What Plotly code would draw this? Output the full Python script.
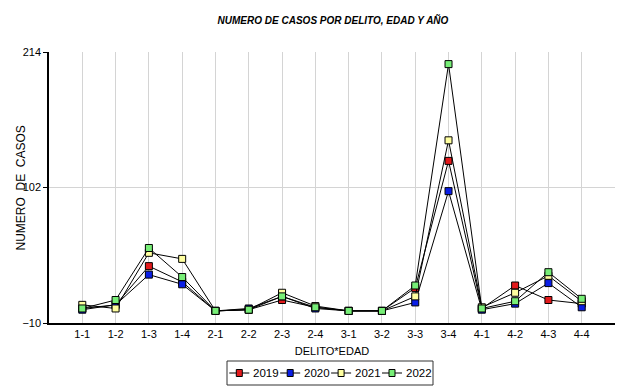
import plotly.graph_objects as go

categories = ["1-1", "1-2", "1-3", "1-4", "2-1", "2-2", "2-3", "2-4",
              "3-1", "3-2", "3-3", "3-4", "4-1", "4-2", "4-3", "4-4"]
v2019 = [2, 5, 37, 24, 0, 1, 9, 3, 0, 0, 19, 124, 2, 21, 9, 6]
v2020 = [1, 5, 30, 22, 0, 2, 12, 2, 0, 0, 7, 99, 1, 6, 23, 3]
v2021 = [5, 2, 48, 43, 0, 1, 15, 4, 0, 0, 12, 141, 3, 15, 29, 8]
v2022 = [2, 9, 52, 28, 0, 1, 12, 3, 0, 0, 21, 204, 2, 8, 32, 10]
series = [("2019", v2019, "#e31a1c"), ("2020", v2020, "#0a1ee6"),
          ("2021", v2021, "#ffffa0"), ("2022", v2022, "#77ee77")]
ytick_vals = [-10, 102, 214]

FONT = "Liberation Sans, Arial, sans-serif"

# figure geometry (page body has an 8px margin, so figure is 8px smaller)
W, H = 636, 381
ML, MR, MT, MB = 41, 29, 44, 66
PW, PH = W - ML - MR, H - MT - MB


def px_to_paper(fx, fy):
    return (fx - ML) / PW, (H - MB - fy) / PH


fig = go.Figure()
for name, vals, col in series:
    fig.add_trace(go.Scatter(
        x=categories, y=vals, name=name, mode="lines+markers",
        line=dict(color="black", width=1),
        marker=dict(symbol="square", size=7, color=col,
                    line=dict(color="black", width=1)),
        showlegend=False,
    ))

# compact legend box drawn below the plot
shapes, annots = [], []
bx0, by0 = px_to_paper(219, 377)
bx1, by1 = px_to_paper(425, 353)
shapes.append(dict(type="rect", xref="paper", yref="paper",
                   x0=bx0, x1=bx1, y0=by0, y1=by1,
                   line=dict(color="#333333", width=1), fillcolor="white",
                   layer="above"))
for i, (name, vals, col) in enumerate(series):
    cx = 231.3 + i * 50.9
    cy = 365
    lx0, ly = px_to_paper(cx - 10, cy)
    lx1, _ = px_to_paper(cx + 10, cy)
    shapes.append(dict(type="line", xref="paper", yref="paper",
                       x0=lx0, x1=lx1, y0=ly, y1=ly,
                       line=dict(color="black", width=1), layer="above"))
    sx0, sy0 = px_to_paper(cx - 3, cy + 3.5)
    sx1, sy1 = px_to_paper(cx + 3, cy - 3.5)
    shapes.append(dict(type="rect", xref="paper", yref="paper",
                       x0=sx0, x1=sx1, y0=sy0, y1=sy1,
                       line=dict(color="black", width=1), fillcolor=col,
                       layer="above"))
    tx, ty = px_to_paper(cx + 11.5, cy)
    annots.append(dict(text=name, xref="paper", yref="paper", x=tx, y=ty,
                       xanchor="left", yanchor="middle", showarrow=False,
                       font=dict(family=FONT, size=11.5)))

annots.append(dict(text="NUMERO  DE  CASOS", textangle=-90,
                   xref="paper", yref="paper", x=-0.0495, y=0.5,
                   xanchor="center", yanchor="middle", showarrow=False,
                   font=dict(family=FONT, size=12)))

fig.update_layout(
    width=W, height=H,
    margin=dict(l=ML, r=MR, t=MT, b=MB, autoexpand=False),
    paper_bgcolor="white", plot_bgcolor="white",
    font=dict(family=FONT, size=11, color="black"),
    title=dict(text="<b><i>NUMERO DE CASOS POR DELITO, EDAD Y AÑO</i></b>",
               x=0.511, xanchor="center", y=0.9685, yanchor="middle",
               font=dict(family=FONT, size=10)),
    showlegend=False,
    shapes=shapes,
    annotations=annots,
)
fig.update_xaxes(
    type="category", range=[-1, 16], automargin=False,
    showline=True, linecolor="black", linewidth=2,
    showgrid=True, gridcolor="#d4d4d4", gridwidth=1,
    ticks="", tickfont=dict(size=11),
    title=dict(text="DELITO*EDAD", font=dict(size=11), standoff=8),
    zeroline=False,
)
fig.update_yaxes(
    range=[-10, 214], tickvals=ytick_vals, automargin=False,
    showline=True, linecolor="black", linewidth=1.5,
    showgrid=True, gridcolor="#d4d4d4",
    ticks="outside", ticklen=4, tickcolor="black",
    tickfont=dict(size=11),
    zeroline=False,
)
fig.write_html("out.html")
